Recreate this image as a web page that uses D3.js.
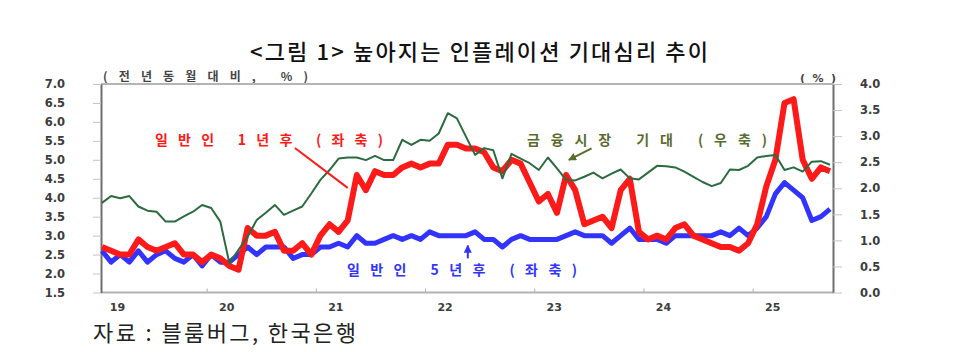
<!DOCTYPE html>
<html><head><meta charset="utf-8">
<script src="https://cdn.jsdelivr.net/npm/d3@7"></script>
<style>body{margin:0;background:#fff;} svg{display:block;}</style>
</head><body><svg id="c" width="972" height="352"></svg>
<script>
// ---- data ----
const months = d3.timeMonths(new Date(2019, 0, 1), new Date(2025, 9, 1)); // Jan 2019 .. Sep 2025
const yearLabels = ["19", "20", "21", "22", "23", "24", "25"];
const leftTicks = [1.5, 2.0, 2.5, 3.0, 3.5, 4.0, 4.5, 5.0, 5.5, 6.0, 6.5, 7.0];
const rightTicks = [0.0, 0.5, 1.0, 1.5, 2.0, 2.5, 3.0, 3.5, 4.0];
// 일반인 1년후 (좌축)
const public1y = [
  2.7, 2.6, 2.5, 2.5, 2.9, 2.7, 2.6, 2.7, 2.8, 2.5, 2.5, 2.3,
  2.5, 2.4, 2.2, 2.1, 3.2, 3.0, 3.0, 3.1, 2.6, 2.6, 2.8, 2.5,
  3.0, 3.3, 3.1, 3.4, 4.6, 4.2, 4.7, 4.6, 4.6, 4.8, 4.9, 4.8,
  4.9, 4.9, 5.4, 5.4, 5.3, 5.3, 5.2, 4.8, 4.7, 5.0, 4.9, 4.4,
  3.9, 4.1, 3.6, 4.6, 4.2, 3.3, 3.4, 3.5, 3.2, 4.2, 4.5, 3.1,
  2.9, 3.0, 2.9, 3.2, 3.3, 3.0, 2.9, 2.8, 2.7, 2.7, 2.6, 2.8,
  3.3, 4.3, 5.0, 6.5, 6.6, 5.0, 4.5, 4.8, 4.7];
// 일반인 5년후 (좌축)
const public5y = [
  2.6, 2.3, 2.5, 2.3, 2.6, 2.3, 2.5, 2.6, 2.4, 2.3, 2.5, 2.2,
  2.5, 2.3, 2.3, 2.5, 2.7, 2.5, 2.7, 2.7, 2.7, 2.4, 2.5, 2.5,
  2.7, 2.7, 2.8, 2.7, 3.0, 2.8, 2.8, 2.9, 3.0, 2.9, 3.0, 2.9,
  3.1, 3.0, 3.0, 3.0, 3.0, 3.1, 2.9, 2.9, 2.7, 2.9, 3.0, 2.9,
  2.9, 2.9, 2.9, 3.0, 3.1, 3.0, 3.0, 3.0, 2.8, 3.0, 3.2, 2.9,
  2.9, 2.9, 2.8, 3.0, 3.0, 3.0, 3.0, 3.0, 3.1, 3.0, 3.2, 3.0,
  3.2, 3.5, 4.1, 4.4, 4.2, 4.0, 3.4, 3.5, 3.7];
// 금융시장 기대 (우축)
const market = [
  1.72, 1.85, 1.81, 1.85, 1.65, 1.57, 1.55, 1.36, 1.36, 1.46, 1.55, 1.68,
  1.62, 1.36, 0.56, 0.82, 1.07, 1.39, 1.53, 1.68, 1.49, 1.57, 1.65, 1.90,
  2.16, 2.35, 2.57, 2.59, 2.59, 2.54, 2.62, 2.54, 2.54, 2.93, 2.83, 2.93,
  2.91, 3.05, 3.44, 3.34, 2.99, 2.64, 2.77, 2.73, 2.19, 2.66, 2.57, 2.48,
  2.35, 2.59, 2.38, 2.16, 2.15, 2.22, 2.30, 2.19, 2.28, 2.36, 2.19, 2.17,
  2.30, 2.43, 2.42, 2.40, 2.32, 2.22, 2.12, 2.04, 2.10, 2.36, 2.35, 2.43,
  2.59, 2.62, 2.64, 2.35, 2.40, 2.32, 2.51, 2.52, 2.45];

// ---- layout ----
const L = 101, R = 833, T = 84, B = 292.5;
const svg = d3.select("#c");
const x = d3.scaleLinear([0, months.length - 1], [102, 830]);
const yL = d3.scaleLinear([1.5, 7.0], [B, T]);
const yR = d3.scaleLinear([0, 4.0], [B, T]);
const KR = "'Noto Sans CJK KR','Noto Sans',sans-serif";
const NUM = "'DejaVu Sans',sans-serif";

// title
svg.append("text").attr("x", 250).attr("y", 60).attr("textLength", 458).attr("lengthAdjust", "spacing")
  .attr("font-family", KR).attr("font-weight", 500).attr("font-size", 22).attr("fill", "#111")
  .text("<그림 1> 높아지는 인플레이션 기대심리 추이");

// unit labels
svg.append("text").attr("x", 103).attr("y", 81).attr("textLength", 205).attr("lengthAdjust", "spacing")
  .attr("font-family", KR).attr("font-weight", 700).attr("font-size", 12).attr("fill", "#444")
  .text("(전년동월대비, %)");
svg.append("text").attr("x", 800).attr("y", 82).attr("textLength", 36).attr("lengthAdjust", "spacing")
  .attr("font-family", NUM).attr("font-weight", 700).attr("font-size", 11).attr("fill", "#444")
  .text("(%)");

// frame top/bottom
svg.append("line").attr("x1", L).attr("x2", R).attr("y1", T).attr("y2", T).attr("stroke", "#b4b4b4").attr("stroke-width", 2);
svg.append("line").attr("x1", L).attr("x2", R).attr("y1", B).attr("y2", B).attr("stroke", "#b4b4b4").attr("stroke-width", 2);

// left axis
const gL = svg.append("g").attr("transform", `translate(${L},0)`)
  .call(d3.axisLeft(yL).tickValues(leftTicks).tickFormat(d3.format(".1f")).tickSize(8).tickSizeOuter(0).tickPadding(28));
// right axis
const gR = svg.append("g").attr("transform", `translate(${R},0)`)
  .call(d3.axisRight(yR).tickValues(rightTicks).tickFormat(d3.format(".1f")).tickSize(9).tickSizeOuter(0).tickPadding(18));
[gL, gR].forEach(g => {
  g.select(".domain").attr("stroke", "#6e6e6e").attr("stroke-width", 2);
  g.selectAll(".tick line").attr("stroke", "#c4c4c4");
  g.selectAll(".tick text").attr("font-family", NUM).attr("font-weight", 700).attr("font-size", 11.5).attr("fill", "#3c3c3c");
});

// bottom ticks (year boundaries) and labels
const boundaries = d3.range(1, yearLabels.length).map(k => 12 * k - 0.5);
const gB = svg.append("g").attr("transform", `translate(0,${B})`)
  .call(d3.axisBottom(x).tickValues(boundaries).tickSize(-4).tickSizeOuter(0).tickFormat(""));
gB.select(".domain").remove();
gB.selectAll(".tick line").attr("stroke", "#b0b0b0");
svg.append("g").selectAll("text").data(yearLabels).join("text")
  .attr("x", (d, k) => x(12 * k + 1.7)).attr("y", 311).attr("text-anchor", "middle")
  .attr("font-family", NUM).attr("font-weight", 700).attr("font-size", 11).attr("fill", "#3c3c3c")
  .text(d => d);

// series
const lineL = d3.line().x((d, i) => x(i)).y(d => yL(d));
const lineR = d3.line().x((d, i) => x(i)).y(d => yR(d));
svg.append("path").datum(public5y).attr("d", lineL).attr("fill", "none")
  .attr("stroke", "#3333ff").attr("stroke-width", 5).attr("stroke-linejoin", "round");
svg.append("path").datum(public1y).attr("d", lineL).attr("fill", "none")
  .attr("stroke", "#ff1a1a").attr("stroke-width", 6).attr("stroke-linejoin", "round");
svg.append("path").datum(market).attr("d", lineR).attr("fill", "none")
  .attr("stroke", "#2c6a40").attr("stroke-width", 2).attr("stroke-linejoin", "round");

// annotations
const defs = svg.append("defs");
function marker(id, color) {
  defs.append("marker").attr("id", id).attr("viewBox", "0 0 10 10").attr("refX", 9).attr("refY", 5)
    .attr("markerWidth", 4).attr("markerHeight", 4).attr("orient", "auto")
    .append("path").attr("d", "M0,0L10,5L0,10Z").attr("fill", color);
}
marker("arB", "#3333ff");
marker("arG", "#5b6b30");

svg.append("text").attr("x", 155).attr("y", 145).attr("textLength", 228).attr("lengthAdjust", "spacing")
  .attr("font-family", KR).attr("font-weight", 700).attr("font-size", 14).attr("fill", "#ff1a1a")
  .text("일반인 1년후 (좌축)");
svg.append("line").attr("x1", x(21.2)).attr("y1", yL(5.31)).attr("x2", x(27.0)).attr("y2", yL(4.26))
  .attr("stroke", "#ff1a1a").attr("stroke-width", 2);

svg.append("text").attr("x", 347).attr("y", 275).attr("textLength", 230).attr("lengthAdjust", "spacing")
  .attr("font-family", KR).attr("font-weight", 700).attr("font-size", 14).attr("fill", "#3333ff")
  .text("일반인 5년후 (좌축)");
svg.append("line").attr("x1", x(40.2)).attr("y1", yL(2.40)).attr("x2", x(40.2)).attr("y2", yL(2.74))
  .attr("stroke", "#3333ff").attr("stroke-width", 2).attr("marker-end", "url(#arB)");

svg.append("text").attr("x", 527).attr("y", 145).attr("textLength", 240).attr("lengthAdjust", "spacing")
  .attr("font-family", KR).attr("font-weight", 700).attr("font-size", 14).attr("fill", "#5b6b30")
  .text("금융시장 기대 (우축)");
svg.append("line").attr("x1", x(53.8)).attr("y1", yL(5.30)).attr("x2", x(51.3)).attr("y2", yL(5.0))
  .attr("stroke", "#5b6b30").attr("stroke-width", 2).attr("marker-end", "url(#arG)");

// source
svg.append("text").attr("x", 93).attr("y", 341).attr("textLength", 263).attr("lengthAdjust", "spacing")
  .attr("font-family", KR).attr("font-weight", 400).attr("font-size", 22).attr("fill", "#222")
  .text("자료 : 블룸버그, 한국은행");
</script></body></html>
